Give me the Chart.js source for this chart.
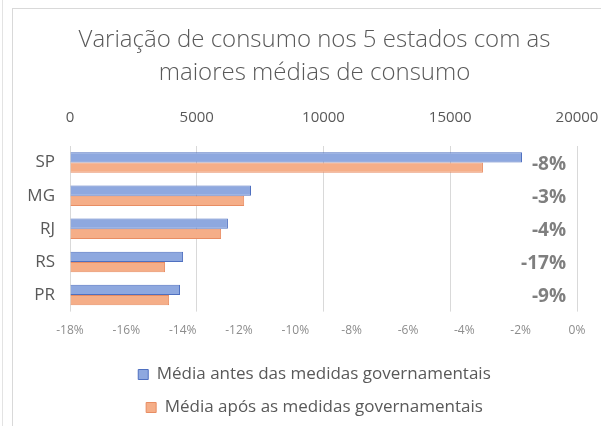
<!DOCTYPE html>
<html>
<head>
<meta charset="utf-8">
<script src="https://cdn.jsdelivr.net/npm/chart.js@4"></script>
<style>
  html, body { margin:0; padding:0; background:#fff; }
  #wrap { position:relative; width:601px; height:426px; }
  #frame { position:absolute; left:12px; top:8px; right:-2px; bottom:-2px; border:1px solid #d9d9d9; }
  #edge { position:absolute; left:2px; top:0; bottom:0; border-left:1px solid #e3e3e3; }
  canvas { position:absolute; left:0; top:0; }
</style>
</head>
<body>
<div id="wrap">
  <div id="edge"></div>
  <div id="frame"></div>
  <canvas id="c" width="601" height="426"></canvas>
</div>
<script>
/* Consumo médio por estado, antes e depois das medidas */
const TITLE = ["Variação de consumo nos 5 estados com as", "maiores médias de consumo"];
const STATES = ["SP", "MG", "RJ", "RS", "PR"];
const BEFORE = [17830, 7140, 6230, 4460, 4340];
const AFTER = [16290, 6870, 5960, 3750, 3910];
const VARIATION = ["-8%", "-3%", "-4%", "-17%", "-9%"];
const PCT_TICKS = [-0.18, -0.16, -0.14, -0.12, -0.10, -0.08, -0.06, -0.04, -0.02, 0];
const LEGEND = ["Média antes das medidas governamentais", "Média após as medidas governamentais"];

const TXT = "#595959", FONT = "'Open Sans', Lato, sans-serif";

const varLabels = {
  id: "varLabels",
  afterDatasetsDraw(chart){
    const ctx = chart.ctx, y = chart.scales.y, area = chart.chartArea;
    ctx.save();
    ctx.font = "bold 19px " + FONT;
    ctx.fillStyle = "#7f7f7f";
    ctx.textAlign = "right";
    ctx.textBaseline = "middle";
    VARIATION.forEach((t, i) => ctx.fillText(t, area.right - 11, y.getPixelForValue(i) + 2));
    ctx.restore();
  }
};

// plot right edge fixed at 577, top labels overhang it
const sidePad = s => { s.paddingRight = 24; s.paddingLeft = 0; };

new Chart(document.getElementById("c"), {
  type: "bar",
  data: {
    labels: STATES,
    datasets: [
      { label: LEGEND[0], data: BEFORE, backgroundColor: "#8ea8df", borderColor: "#4f70c0", borderWidth: 1,
        categoryPercentage: 0.62, barPercentage: 1 },
      { label: LEGEND[1], data: AFTER, backgroundColor: "#f5ae88", borderColor: "#e88d63", borderWidth: 1,
        categoryPercentage: 0.62, barPercentage: 1 }
    ]
  },
  options: {
    indexAxis: "y",
    responsive: false,
    animation: false,
    layout: { padding: { left: 28, right: 0, top: 12, bottom: 0 } },
    plugins: {
      title: { display: true, text: TITLE, color: TXT, font: { family: FONT, size: 24, weight: "300", lineHeight: 1.375 },
               padding: { top: 12, bottom: 0 } },
      legend: { position: "bottom", labels: { color: TXT, font: { family: FONT, size: 17 }, boxWidth: 10, boxHeight: 10, padding: 16 } },
      tooltip: { enabled: false }
    },
    scales: {
      x: { position: "top", min: 0, max: 20000, afterFit: sidePad,
           ticks: { stepSize: 5000, color: TXT, font: { family: FONT, size: 15 }, padding: 19, callback: v => String(v) },
           grid: { color: "#d9d9d9", drawTicks: false }, border: { display: false } },
      x2: { position: "bottom", min: -0.18, max: 0, afterFit: sidePad,
            afterBuildTicks: s => { s.ticks = PCT_TICKS.map(v => ({ value: v })); },
            ticks: { color: "#8c8c8c", font: { family: FONT, size: 12 }, padding: 12,
                     callback: v => Math.round(v * 100) + "%" },
            grid: { display: false, drawTicks: false }, border: { display: false } },
      y: { afterFit: s => { s.width = 42; },
           ticks: { color: TXT, font: { family: FONT, size: 17 }, padding: 15 },
           grid: { display: false, drawTicks: false }, border: { display: false } }
    }
  },
  plugins: [varLabels]
});
</script>
</body>
</html>
